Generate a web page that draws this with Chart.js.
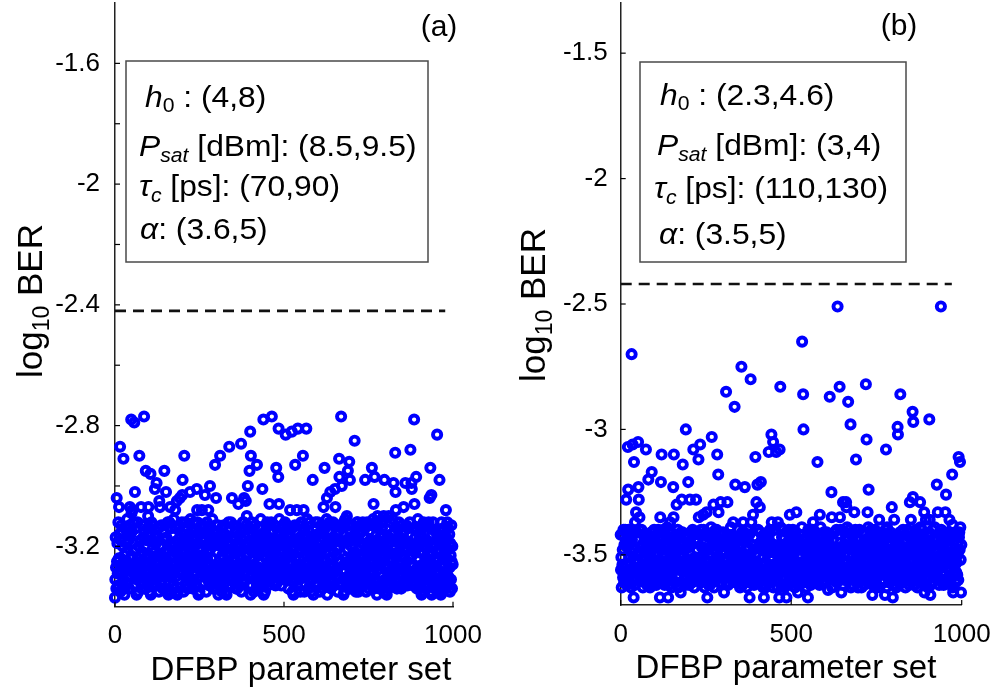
<!DOCTYPE html>
<html>
<head>
<meta charset="utf-8">
<script src="https://cdn.jsdelivr.net/npm/chart.js@4.4.0/dist/chart.umd.min.js"></script>
<style>
  body { margin: 0; background: #fff; }
  #wrap { position: relative; width: 1003px; height: 692px; }
  canvas { position: absolute; top: 0; }
  #chartA { left: 0; }
  #chartB { left: 500px; }
</style>
</head>
<body>
<div id="wrap">
  <canvas id="chartA" width="500" height="692"></canvas>
  <canvas id="chartB" width="503" height="692"></canvas>
</div>
<script>
// log10 BER for each DFBP parameter set (index = parameter set number), panel (a)
const berA = [
-3.37,-3.31,-3.17,-3.27,-3.34,-3.04,-3.25,-3.19,-3.29,-3.33,-3.12,-3.24,-3.07,-3.16,-3.28,-2.87,-3.35,-3.18,-3.26,-3.13,
-3.29,-3.15,-3.33,-3.2,-3.26,-2.91,-3.31,-3.23,-3.36,-3.34,-3.27,-3.14,-3.22,-3.32,-3.19,-3.25,-3.11,-3.3,-3.16,-3.28,
-3.18,-3.26,-3.34,-3.13,-3.07,-3.3,-3.16,-3.28,-2.78,-3.09,-3.15,-3.24,-3.08,-3.19,-3.27,-3.12,-3.29,-2.79,-3.33,-3.02,
-3.33,-3.21,-3.14,-3.28,-3.36,-3.31,-3.24,-3.12,-3.26,-3.35,-3.2,-3.3,-2.9,-3.27,-3.23,-3.18,-3.32,-3.07,-3.25,-3.29,
-3.25,-3.13,-3.3,-3.22,-3.17,-3.32,-2.77,-3.15,-3.34,-3.2,-3.28,-2.95,-3.24,-3.31,-3.18,-3.26,-3.14,-3.33,-3.1,-3.07,
-3.16,-3.28,-3.23,-3.35,-3.14,-2.96,-3.36,-3.31,-3.12,-3.27,-3.33,-3.18,-3.29,-3.24,-3.13,-3.3,-3.22,-3.17,-3.01,-3.19,
-3.31,-3.19,-3.26,-2.99,-3.33,-3.23,-3.17,-3.29,-3.25,-3.14,-3.35,-3.05,-3.28,-3.07,-3.32,-3.2,-3.27,-3.13,-3.3,-3.24,
-3.2,-3.34,-3.15,-3.25,-3.29,-3.18,-2.95,-3.22,-3.13,-3.28,-3.24,-3.02,-3.17,-3.35,-3.21,-3.26,-3.12,-3.3,-3.36,-3.27,
-3.27,-3.12,-3.32,-3.07,-3.24,-3.35,-3.14,-3.3,-3.2,-3.26,-3.16,-3.33,-3.23,-3.29,-3.11,-3.28,-3.19,-3.34,-3.08,-3.22,
-3.14,-3.3,-3.21,-3.05,-3.36,-3.27,-3.35,-3.19,-3.23,-3.31,-3.13,-3.25,-3.04,-3.2,-3.26,-3.17,-3.29,-3.24,-3.12,-3.03,
-2.98,-3.26,-3.18,-3.35,-3.21,-2.9,-3.16,-3.3,-3.24,-3.12,-3.33,-3.29,-3.19,-3.25,-3.14,-3.34,-3.27,-3.17,-3.31,-3.22,
-3.28,-3.16,-3.02,-3.11,-3.25,-3.19,-3.32,-3.22,-3.14,-3.27,-3.34,-3.18,-3.23,-3.31,-3.12,-3.26,-3.2,-3.33,-3.15,-3.29,
-3.17,-3.33,-3.01,-3.08,-3.12,-3.27,-3.19,-3.36,-3.24,-3.15,-3.35,-3.21,-3.28,-3.16,-3.3,-3.23,-3.13,-3.08,-3.26,-3.18,
-3.29,-3.25,-3.13,-3.32,-3.18,-3.23,-3.03,-3.15,-3.3,-3.2,-3.35,-3.26,-3.12,-3.24,-3.31,-3.19,-3.08,-3.14,-3.21,-3.33,
-3.29,-3.0,-3.33,-3.14,-3.26,-3.18,-3.31,-3.24,-3.11,-3.28,-3.2,-3.34,-3.15,-3.27,-3.32,-3.17,-2.93,-3.3,-3.13,-3.04,
-3.19,-3.34,-3.17,-3.22,-3.3,-3.13,-3.36,-3.29,-3.18,-3.33,-3.27,-2.9,-3.31,-3.2,-3.26,-3.14,-3.35,-3.23,-3.28,-3.16,
-3.24,-3.3,-3.13,-3.27,-3.2,-3.32,-3.16,-3.28,-3.21,-3.35,-3.36,-3.25,-3.29,-3.17,-3.23,-3.33,-3.12,-3.26,-2.87,-3.31,
-3.27,-3.19,-3.3,-3.12,-3.26,-3.21,-3.04,-3.17,-3.31,-3.24,-3.28,-3.13,-3.22,-3.32,-3.18,-3.29,-3.25,-3.15,-3.34,-3.2,
-3.22,-3.15,-3.34,-3.19,-3.28,-3.06,-3.29,-3.23,-3.33,-3.16,-3.26,-3.2,-3.3,-2.86,-3.35,-3.24,-3.18,-3.32,-3.12,-3.27,
-3.32,-3.12,-3.04,-3.29,-3.17,-3.26,-3.2,-3.05,-3.25,-3.13,-3.1,-3.23,-3.19,-3.0,-3.27,-3.16,-3.33,-3.21,-2.95,-3.14,
-2.82,-3.36,-2.9,-3.29,-3.33,-3.12,-3.24,-3.3,-3.16,-3.28,-3.21,-3.35,-3.18,-3.26,-3.13,-3.22,-3.31,-3.17,-3.27,-3.34,
-2.93,-3.31,-3.23,-3.18,-3.34,-3.27,-3.14,-3.22,-3.32,-3.19,-3.25,-3.11,-3.3,-3.16,-3.28,-3.29,-3.01,-3.33,-3.2,-2.78,
-3.36,-3.16,-3.28,-3.21,-3.35,-3.15,-3.24,-3.32,-3.19,-3.27,-3.12,-3.29,-3.22,-3.33,-3.17,-3.18,-3.26,-3.06,-3.13,-3.23,
-3.31,-3.24,-3.12,-3.26,-2.77,-3.2,-3.3,-3.15,-3.27,-3.23,-3.18,-3.32,-3.13,-3.25,-3.29,-3.33,-3.21,-2.94,-3.28,-3.19,
-3.32,-3.27,-3.15,-2.97,-2.81,-3.06,-3.11,-3.24,-3.31,-3.18,-3.26,-3.14,-3.33,-3.21,-3.29,-3.25,-3.13,-3.3,-3.22,-3.17,
-3.26,-3.2,-3.31,-3.12,-3.27,-2.83,-3.18,-3.29,-3.24,-3.13,-3.3,-3.22,-3.17,-3.34,-3.19,-3.16,-3.28,-3.23,-3.08,-3.14,
-3.23,-3.17,-3.29,-2.82,-3.14,-3.35,-3.21,-3.28,-3.36,-3.32,-3.2,-3.27,-3.13,-2.93,-3.24,-3.31,-3.19,-3.26,-3.08,-3.33,
-3.18,-2.81,-3.22,-3.13,-3.28,-3.24,-3.31,-3.17,-3.35,-3.21,-3.26,-3.12,-3.3,-3.19,-3.27,-3.2,-2.9,-3.15,-3.08,-3.29,
-3.35,-3.14,-3.3,-3.2,-3.26,-3.16,-2.81,-3.23,-3.29,-3.11,-3.28,-3.19,-3.34,-3.15,-3.22,-3.27,-3.12,-3.32,-3.18,-3.24,
-3.27,-3.35,-3.19,-3.23,-3.31,-2.98,-3.25,-3.36,-3.2,-3.26,-3.17,-3.29,-3.24,-3.12,-3.32,-3.14,-3.3,-3.21,-3.33,-3.16,
-3.12,-3.24,-3.3,-3.16,-3.28,-3.21,-3.35,-3.18,-3.26,-3.13,-3.22,-3.31,-3.17,-3.27,-3.34,-3.14,-3.25,-3.07,-3.29,-3.33,
-2.94,-3.14,-3.22,-3.32,-3.19,-3.25,-3.11,-3.04,-3.36,-3.28,-3.29,-3.15,-3.33,-3.2,-3.26,-3.12,-3.31,-3.02,-3.18,-3.34,
-3.15,-3.24,-3.32,-3.19,-3.27,-3.12,-3.29,-3.22,-3.33,-3.17,-3.18,-3.01,-3.07,-3.13,-3.23,-3.3,-3.16,-3.28,-3.21,-3.35,
-3.2,-3.3,-3.15,-2.91,-2.97,-3.18,-3.32,-3.13,-3.25,-2.77,-3.33,-3.0,-3.14,-3.28,-3.19,-3.31,-3.36,-3.12,-3.26,-3.35,
-3.28,-3.11,-3.24,-3.31,-3.18,-3.26,-3.1,-3.33,-3.21,-2.95,-3.25,-3.13,-3.3,-2.92,-3.17,-2.98,-3.27,-3.15,-3.34,-3.2,
-3.33,-3.18,-3.29,-3.24,-3.13,-3.3,-3.22,-3.17,-3.34,-2.85,-3.16,-3.28,-3.23,-3.35,-3.14,-3.26,-3.12,-3.31,-3.12,-3.27,
-3.35,-3.21,-3.28,-3.16,-3.32,-3.2,-3.27,-3.13,-3.3,-3.24,-3.31,-3.19,-3.26,-3.12,-3.33,-3.23,-3.17,-3.29,-3.25,-3.14,
-2.98,-3.31,-3.17,-3.35,-3.21,-3.26,-3.12,-3.3,-3.19,-3.27,-3.2,-3.34,-3.15,-3.25,-3.29,-3.18,-3.32,-3.22,-3.13,-3.28,
-2.94,-3.33,-3.23,-3.29,-3.11,-3.06,-3.19,-3.34,-2.97,-3.22,-3.27,-3.12,-3.32,-3.18,-3.24,-3.36,-3.14,-3.1,-3.2,-3.26,
-3.13,-3.25,-3.34,-3.2,-3.26,-3.17,-3.29,-3.24,-3.12,-3.32,-3.14,-3.3,-3.21,-3.33,-3.16,-3.1,-3.35,-2.98,-3.23,-3.31,
-3.21,-3.35,-3.18,-3.26,-3.36,-3.22,-3.31,-3.17,-3.27,-3.34,-3.1,-3.25,-3.19,-3.29,-3.33,-3.12,-3.24,-3.3,-3.16,-3.28,
-3.25,-3.11,-3.3,-3.16,-2.99,-3.29,-3.15,-3.33,-3.2,-2.89,-3.02,-3.08,-3.23,-3.18,-3.34,-3.27,-3.14,-3.22,-3.32,-3.19,
-3.12,-3.29,-3.22,-3.33,-3.17,-3.18,-3.26,-3.34,-3.13,-3.23,-3.3,-3.16,-3.28,-3.21,-3.07,-3.15,-3.24,-3.32,-3.19,-2.99,
-3.18,-3.32,-3.13,-3.25,-3.29,-3.33,-3.21,-3.14,-3.28,-3.19,-3.31,-3.24,-3.12,-3.26,-2.88,-3.2,-3.3,-2.99,-3.01,-3.23,
-3.26,-3.14,-3.33,-3.21,-3.29,-2.78,-3.06,-3.3,-3.22,-3.17,-3.32,-2.97,-3.15,-3.34,-3.2,-3.28,-3.11,-3.24,-3.31,-3.18,
-3.3,-3.22,-3.17,-3.34,-3.19,-3.16,-3.28,-3.36,-3.35,-3.14,-3.26,-3.2,-3.31,-3.12,-3.27,-3.33,-3.18,-3.29,-3.24,-3.13,
-3.2,-3.27,-3.13,-3.3,-3.24,-3.31,-3.19,-3.26,-3.12,-3.33,-3.23,-3.04,-3.29,-2.94,-3.14,-3.35,-3.03,-3.36,-3.16,-3.32,
-3.26,-3.12,-3.3,-3.19,-3.27,-3.2,-3.34,-3.15,-3.25,-3.29,-3.18,-3.32,-3.22,-2.83,-3.28,-3.24,-3.31,-3.17,-3.35,-3.21,
-2.98,-3.19,-3.34,-3.15,-3.36,-3.27,-3.12,-3.32,-3.18,-3.24,-3.35,-3.14,-3.3,-3.2,-3.26,-3.16,-3.33,-3.23,-3.29,-3.08,
-3.17,-3.29,-3.24,-3.12,-3.32,-3.14,-3.3,-3.21,-3.33,-3.16,-3.27,-3.35,-3.19,-3.23,-3.31,-3.13,-3.25,-3.34,-3.2,-3.26
];

// panel (b)
const berB = [
-3.42,-3.56,-3.51,-3.63,-3.42,-3.54,-3.48,-3.59,-3.4,-3.55,-3.61,-3.46,-3.57,-3.4,-3.41,-3.58,-3.28,-3.45,-3.62,-3.47,
-3.59,-3.07,-3.24,-3.4,-3.61,-3.51,-3.45,-3.57,-3.53,-3.42,-3.63,-3.49,-2.7,-3.44,-3.6,-3.06,-3.55,-3.41,-3.67,-3.13,
-3.48,-3.62,-3.37,-3.53,-3.57,-3.33,-3.6,-3.5,-3.41,-3.56,-3.52,-3.05,-3.23,-3.28,-3.49,-3.35,-3.4,-3.58,-3.47,-3.55,
-3.55,-3.4,-3.6,-3.46,-3.52,-3.63,-3.42,-3.58,-3.48,-3.54,-3.44,-3.61,-3.51,-3.57,-3.08,-3.56,-3.47,-3.62,-3.43,-3.5,
-3.42,-3.2,-3.49,-3.61,-3.44,-3.55,-3.63,-3.47,-3.51,-3.59,-3.41,-3.17,-3.62,-3.48,-3.54,-3.45,-3.57,-3.52,-3.4,-3.6,
-3.5,-3.59,-3.45,-3.55,-3.62,-3.42,-3.53,-3.47,-3.57,-3.61,-3.4,-3.52,-3.58,-3.44,-3.56,-3.67,-3.35,-3.46,-3.21,-3.41,
-3.1,-3.43,-3.61,-3.48,-3.54,-3.4,-3.59,-3.51,-3.46,-3.62,-3.55,-3.42,-3.5,-3.6,-3.47,-3.53,-3.39,-3.58,-3.44,-3.67,
-3.46,-3.54,-3.62,-3.41,-3.51,-3.37,-3.44,-3.56,-3.49,-3.63,-3.43,-3.52,-3.6,-3.47,-3.23,-3.35,-3.1,-3.5,-3.61,-3.45,
-3.61,-3.49,-3.42,-3.56,-3.3,-3.59,-3.52,-3.4,-3.54,-3.63,-3.48,-3.58,-3.43,-3.55,-3.51,-3.46,-3.65,-3.41,-3.53,-3.28,
-3.53,-3.41,-3.14,-3.5,-3.45,-3.6,-3.55,-3.43,-3.62,-3.48,-3.56,-3.0,-3.52,-3.59,-3.46,-3.54,-3.42,-3.61,-3.21,-3.57,
-3.47,-3.62,-3.45,-3.28,-3.58,-3.41,-3.52,-3.57,-3.46,-3.61,-3.55,-3.4,-3.59,-3.08,-3.54,-3.42,-3.63,-3.51,-3.56,-3.44,
-3.52,-3.28,-3.41,-3.55,-3.48,-3.6,-3.44,-3.56,-3.12,-3.35,-3.42,-3.53,-3.57,-3.06,-3.51,-3.61,-3.4,-3.54,-3.47,-3.59,
-3.55,-3.47,-3.34,-3.4,-3.54,-3.49,-3.63,-3.45,-3.59,-3.52,-3.56,-3.41,-3.33,-3.6,-3.67,-3.57,-3.53,-3.43,-3.62,-3.48,
-3.5,-3.43,-3.62,-3.47,-3.56,-3.39,-3.57,-3.03,-3.61,-3.44,-3.54,-3.48,-3.3,-3.42,-3.63,-3.52,-3.46,-3.6,-3.4,-3.55,
-3.6,-3.4,-3.52,-3.1,-3.45,-3.54,-3.18,-3.33,-3.53,-3.41,-3.59,-3.51,-3.47,-3.29,-3.55,-3.44,-3.61,-3.49,-3.58,-3.42,
-3.41,-3.54,-3.46,-3.65,-3.49,-3.56,-3.44,-3.58,-3.52,-2.85,-3.61,-3.57,-3.47,-3.29,-3.42,-3.62,-3.55,-3.45,-3.59,-3.5,
-3.56,-3.44,-3.58,-3.39,-3.53,-3.47,-3.6,-3.5,-3.42,-3.55,-3.37,-3.46,-3.51,-3.59,-2.91,-3.54,-3.22,-3.61,-3.43,-3.57,
-3.45,-3.61,-3.5,-3.57,-3.4,-3.55,-3.47,-3.6,-3.52,-3.43,-3.63,-3.49,-3.56,-3.44,-2.75,-3.51,-3.41,-3.62,-3.54,-3.37,
-3.57,-3.53,-3.41,-3.6,-3.23,-3.51,-3.55,-3.43,-3.58,-3.48,-3.63,-3.54,-3.4,-3.52,-3.59,-3.47,-3.56,-3.42,-3.67,-3.61,
-3.57,-2.8,-3.61,-3.37,-3.54,-3.46,-3.59,-3.52,-3.34,-3.56,-3.48,-3.62,-3.43,-3.55,-3.6,-3.11,-3.5,-3.58,-3.29,-3.53,
-3.54,-3.22,-3.59,-3.4,-3.55,-3.61,-3.46,-3.57,-3.31,-3.41,-3.58,-3.21,-3.45,-3.62,-3.47,-3.44,-3.56,-3.51,-3.63,-3.42,
-3.67,-3.45,-3.57,-3.53,-3.42,-3.63,-3.49,-3.56,-3.44,-3.6,-3.48,-3.55,-3.41,-3.58,-3.09,-3.59,-3.47,-3.54,-3.4,-3.61,
-3.46,-3.6,-3.02,-3.37,-3.56,-3.52,-3.59,-3.05,-3.63,-3.49,-3.54,-3.4,-3.58,-3.47,-3.55,-3.48,-3.09,-3.43,-3.53,-3.57,
-3.63,-3.37,-3.58,-3.48,-3.54,-3.67,-3.08,-3.51,-2.83,-3.39,-3.56,-3.47,-3.62,-3.43,-3.5,-3.55,-3.4,-3.6,-3.46,-3.52,
-3.55,-3.63,-3.47,-3.51,-3.59,-3.41,-3.67,-3.62,-3.48,-3.54,-3.45,-3.57,-3.52,-3.4,-3.6,-3.42,-3.34,-3.49,-3.61,-3.44,
-3.42,-3.53,-3.47,-3.57,-3.61,-3.4,-3.52,-3.58,-3.44,-3.56,-3.49,-3.63,-3.46,-3.54,-3.41,-3.33,-3.59,-3.45,-3.55,-3.62,
-3.65,-3.59,-3.51,-3.46,-3.62,-3.55,-3.42,-3.5,-3.6,-3.47,-3.53,-3.39,-2.65,-3.44,-3.56,-2.86,-3.0,-3.61,-3.48,-3.54,
-3.58,-3.44,-3.56,-3.49,-3.63,-3.43,-3.52,-3.6,-3.47,-3.67,-3.4,-3.57,-3.5,-3.61,-3.45,-3.46,-3.54,-3.62,-3.41,-3.51,
-3.59,-3.52,-3.4,-3.54,-3.37,-3.42,-3.58,-3.43,-3.55,-3.51,-3.46,-3.6,-3.41,-3.53,-3.57,-3.61,-3.49,-3.13,-3.56,-3.47,
-3.6,-3.55,-3.43,-3.62,-3.34,-3.56,-3.39,-3.52,-3.59,-3.46,-3.54,-3.42,-3.61,-3.49,-3.57,-3.53,-3.41,-3.58,-3.5,-3.45,
-3.61,-3.46,-3.57,-3.52,-3.41,-3.58,-3.5,-3.45,-3.64,-3.42,-3.44,-3.56,-3.51,-2.87,-3.42,-3.54,-3.48,-3.59,-3.25,-3.35,
-3.63,-3.49,-3.56,-3.44,-3.6,-3.48,-3.55,-3.41,-3.58,-3.52,-3.59,-3.47,-3.54,-3.4,-3.61,-3.51,-2.51,-3.57,-3.53,-3.42,
-3.52,-3.59,-2.83,-3.35,-3.49,-3.54,-3.4,-3.65,-3.47,-3.55,-3.48,-3.62,-3.29,-3.53,-3.57,-3.46,-3.6,-3.5,-3.41,-3.56,
-3.44,-3.29,-3.31,-3.57,-3.39,-3.56,-3.47,-2.89,-3.43,-3.5,-3.55,-3.4,-3.6,-3.46,-2.98,-3.63,-3.42,-3.58,-3.48,-3.54,
-3.41,-3.53,-3.62,-3.48,-3.54,-3.33,-3.57,-3.52,-3.4,-3.6,-3.12,-3.58,-3.49,-3.61,-3.44,-3.55,-3.63,-3.47,-3.51,-3.59,
-3.4,-3.52,-3.58,-3.44,-3.56,-3.49,-3.63,-3.46,-3.54,-3.41,-3.5,-3.59,-3.45,-3.55,-3.62,-3.42,-3.53,-3.47,-3.57,-2.82,
-3.55,-3.04,-3.5,-3.6,-3.33,-3.53,-3.39,-3.24,-3.44,-3.56,-3.57,-3.43,-3.61,-3.48,-3.54,-3.4,-3.59,-3.51,-3.66,-3.62,
-3.43,-3.52,-3.6,-3.47,-3.55,-3.4,-3.57,-3.5,-3.61,-3.45,-3.46,-3.54,-3.62,-3.41,-3.51,-3.58,-3.44,-3.56,-3.36,-3.63,
-3.48,-3.58,-3.43,-3.55,-3.51,-3.46,-3.6,-3.41,-3.53,-3.57,-3.61,-3.49,-3.42,-3.56,-3.47,-3.66,-3.52,-3.4,-3.08,-3.63,
-3.56,-3.39,-3.52,-3.59,-3.46,-3.54,-3.42,-3.61,-3.49,-3.57,-3.53,-3.41,-3.58,-3.5,-3.45,-3.31,-3.55,-3.43,-3.67,-3.48,
-3.58,-3.5,-3.36,-3.62,-3.47,-3.44,-3.56,-3.51,-3.63,-3.42,-3.54,-3.48,-2.99,-3.02,-3.55,-3.61,-3.46,-3.57,-3.52,-3.41,
-2.86,-3.55,-3.41,-3.58,-3.52,-3.59,-3.47,-3.54,-3.4,-3.61,-3.51,-3.45,-3.57,-3.53,-3.42,-3.63,-3.49,-3.56,-3.44,-3.6,
-3.54,-3.4,-3.58,-3.47,-3.55,-3.48,-3.62,-3.43,-3.29,-3.57,-3.46,-3.36,-3.5,-3.41,-3.56,-3.52,-2.93,-3.27,-2.97,-3.49,
-3.56,-3.47,-3.62,-3.43,-3.5,-3.55,-3.4,-3.6,-3.46,-3.52,-3.63,-3.42,-3.58,-3.48,-3.54,-3.44,-3.61,-3.51,-3.29,-3.39,
-3.45,-3.57,-3.52,-3.4,-3.6,-3.42,-3.58,-3.49,-3.61,-3.44,-3.33,-3.65,-3.47,-3.51,-3.59,-3.36,-3.53,-3.62,-3.48,-3.54,
-3.49,-3.63,-3.46,-3.54,-3.41,-2.96,-3.36,-3.45,-3.66,-3.62,-3.42,-3.53,-3.47,-3.57,-3.61,-3.4,-3.52,-3.58,-3.44,-3.56,
-3.53,-3.39,-3.58,-3.44,-3.56,-3.57,-3.43,-3.22,-3.48,-3.54,-3.33,-3.59,-3.51,-3.46,-3.62,-3.55,-3.42,-3.5,-3.6,-2.51,
-3.4,-3.57,-3.5,-3.61,-3.45,-3.46,-3.54,-3.62,-3.41,-3.51,-3.58,-3.44,-3.33,-3.49,-3.26,-3.43,-3.52,-3.6,-3.47,-3.55,
-3.46,-3.6,-3.41,-3.53,-3.36,-3.61,-3.49,-3.42,-3.56,-3.47,-3.59,-3.52,-3.18,-3.38,-3.63,-3.65,-3.58,-3.43,-3.55,-3.51,
-3.54,-3.42,-3.61,-3.49,-3.57,-3.53,-3.41,-3.58,-3.5,-3.45,-3.6,-3.11,-3.43,-3.41,-3.48,-3.13,-3.39,-3.52,-3.65,-3.46
];

// axes
const xTicks = [0, 500, 1000];
const xLabels = ['0', '500', '1000'];
const yTicksA = [-3.2, -3, -2.8, -2.6, -2.4, -2.2, -2, -1.8, -1.6];
const yLabelsA = ['-3.2', '', '-2.8', '', '-2.4', '', '-2', '', '-1.6'];
const yTicksB = [-3.5, -3, -2.5, -2, -1.5];
const yLabelsB = ['-3.5', '-3', '-2.5', '-2', '-1.5'];

// BER threshold (dashed line)
const thresholdA = -2.42;
const thresholdB = -2.42;

// parameter ranges shown in the boxes
const rangesA = ['(4,8)', '(8.5,9.5)', '(70,90)', '(3.6,5)'];
const rangesB = ['(2.3,4.6)', '(3,4)', '(110,130)', '(3.5,5)'];

const FONT = "'Liberation Sans', Arial, sans-serif";

// draw a row of text pieces (for subscripts / italics)
function drawRuns(ctx, x, y, parts, opt) {
  opt = opt || {};
  ctx.save();
  ctx.translate(x, y);
  if (opt.rot) ctx.rotate(opt.rot);
  ctx.scale(opt.sx || 1, 1);
  let total = 0;
  parts.forEach(p => {
    ctx.font = (p[2] ? 'italic ' : '') + p[1] + 'px ' + FONT;
    total += ctx.measureText(p[0]).width;
  });
  let cx = opt.center ? -total / 2 : 0;
  ctx.fillStyle = '#000';
  ctx.textBaseline = 'alphabetic';
  ctx.textAlign = 'left';
  parts.forEach(p => {
    ctx.font = (p[2] ? 'italic ' : '') + p[1] + 'px ' + FONT;
    ctx.fillText(p[0], cx, p[3] || 0);
    cx += ctx.measureText(p[0]).width;
  });
  ctx.restore();
}

function makePanel(id, ber, o) {
  const deco = {
    id: 'deco' + id,
    afterDraw(chart) {
      const ctx = chart.ctx;
      const a = chart.chartArea;
      const xs = chart.scales.x, ys = chart.scales.y;
      ctx.save();
      // inward tick marks
      ctx.strokeStyle = '#000';
      ctx.lineWidth = 1.2;
      ys.ticks.forEach(t => {
        const p = ys.getPixelForValue(t.value);
        ctx.beginPath(); ctx.moveTo(a.left, p); ctx.lineTo(a.left + 5, p); ctx.stroke();
      });
      xs.ticks.forEach(t => {
        const p = xs.getPixelForValue(t.value);
        ctx.beginPath(); ctx.moveTo(p, a.bottom); ctx.lineTo(p, a.bottom - 5); ctx.stroke();
      });
      // parameter box
      ctx.strokeStyle = '#4a4a4a';
      ctx.lineWidth = 1.5;
      ctx.strokeRect(o.box[0], o.box[1], o.box[2], o.box[3]);
      const L = o.lines, r = o.ranges, sx = 1.06;
      drawRuns(ctx, L[0][0], L[0][1], [['h', 30, true], ['0', 20, false, 5], [' : ' + r[0], 30]], { sx });
      drawRuns(ctx, L[1][0], L[1][1], [['P', 30, true], ['sat', 20, true, 6], [' [dBm]: ' + r[1], 30]], { sx });
      drawRuns(ctx, L[2][0], L[2][1], [['τ', 30, true], ['c', 20, true, 6], [' [ps]: ' + r[2], 30]], { sx });
      drawRuns(ctx, L[3][0], L[3][1], [['α', 30, true], [': ' + r[3], 30]], { sx });
      // panel label
      drawRuns(ctx, o.tag[0], o.tag[1], [[o.tag[2], 30]], { center: true });
      // axis titles
      drawRuns(ctx, o.xTitle[0], o.xTitle[1], [['DFBP parameter set', 33]], { center: true });
      drawRuns(ctx, o.yTitle[0], o.yTitle[1], [['log', 35], ['10', 23, false, 7], [' BER', 35]],
        { center: true, rot: -Math.PI / 2 });
      ctx.restore();
    }
  };

  return new Chart(document.getElementById(id), {
    data: {
      datasets: [
        {
          type: 'scatter',
          data: ber.map((v, i) => ({ x: i, y: v })),
          pointStyle: 'circle',
          pointRadius: 4.1,
          pointHoverRadius: 4.1,
          pointBorderWidth: 3.9,
          borderColor: '#0000ff',
          backgroundColor: 'rgba(0,0,0,0)',
          clip: false
        },
        {
          type: 'line',
          data: [{ x: 0, y: o.threshold }, { x: o.thrEnd, y: o.threshold }],
          borderColor: '#111',
          borderWidth: 2.6,
          borderDash: [11, 7],
          pointRadius: 0,
          fill: false
        }
      ]
    },
    options: {
      responsive: false,
      animation: false,
      events: [],
      layout: { autoPadding: false, padding: { left: 0, right: o.padRight, top: 3, bottom: 0 } },
      plugins: { legend: { display: false }, tooltip: { enabled: false } },
      scales: {
        x: {
          type: 'linear',
          min: 0, max: 1000,
          afterBuildTicks: s => { s.ticks = xTicks.map(v => ({ value: v })); },
          afterFit: s => { s.height = o.xHeight; s.paddingLeft = 0; s.paddingRight = 0; },
          grid: { display: false, drawTicks: false },
          border: { display: true, color: '#222', width: 1.5 },
          ticks: {
            padding: 14, color: '#000', maxRotation: 0,
            font: { family: FONT, size: 26 },
            callback: (v, i) => xLabels[i]
          }
        },
        y: {
          type: 'linear',
          min: o.yMin, max: o.yMax,
          afterBuildTicks: s => { s.ticks = o.yTicks.map(v => ({ value: v })); },
          afterFit: s => { s.width = o.yWidth; s.paddingTop = 0; s.paddingBottom = 0; },
          grid: { display: false, drawTicks: false },
          border: { display: true, color: '#222', width: 1.5 },
          ticks: {
            padding: o.yPad, color: '#000',
            font: { family: FONT, size: 26 },
            callback: (v, i) => o.yLabels[i]
          }
        }
      }
    },
    plugins: [deco]
  });
}

makePanel('chartA', berA, {
  yMin: -3.4, yMax: -1.4, yTicks: yTicksA, yLabels: yLabelsA,
  threshold: thresholdA, thrEnd: 977,
  yWidth: 115, xHeight: 85.3, padRight: 47, yPad: 15,
  box: [126, 61, 302, 201],
  lines: [[145, 107], [139, 156], [139, 196], [140, 239]],
  ranges: rangesA,
  tag: [439, 36, '(a)'],
  xTitle: [301, 680],
  yTitle: [42, 301]
});

makePanel('chartB', berB, {
  yMin: -3.7, yMax: -1.3, yTicks: yTicksB, yLabels: yLabelsB,
  threshold: thresholdB, thrEnd: 971,
  yWidth: 120.7, xHeight: 87, padRight: 41.3, yPad: 13,
  box: [140, 62, 266, 200],
  lines: [[160, 105], [157, 155], [154, 198], [159, 244]],
  ranges: rangesB,
  tag: [399, 35, '(b)'],
  xTitle: [286, 678],
  yTitle: [45, 305]
});
</script>
</body>
</html>
